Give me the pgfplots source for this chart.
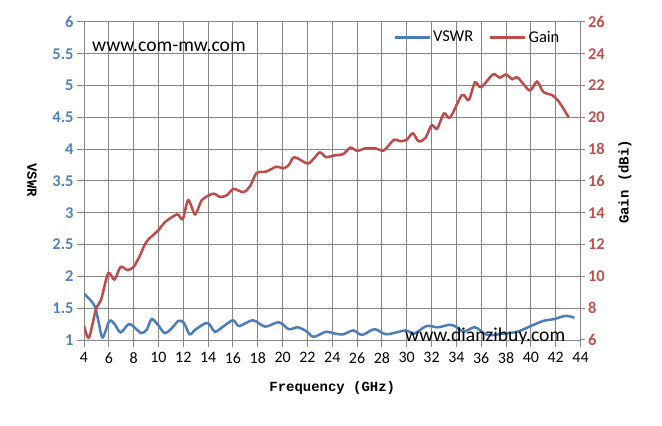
\documentclass[border=0pt]{standalone}
\usepackage{fontspec}
\setmainfont{Carlito}
\newfontfamily\labfont{Liberation Mono}
\usepackage{pgfplots}
\pgfplotsset{compat=1.18}
\definecolor{vblue}{HTML}{4A7EBB}
\definecolor{gred}{HTML}{BE4B48}
\definecolor{tblue}{HTML}{4F81BD}
\definecolor{tred}{HTML}{C0504D}
\definecolor{gridgray}{HTML}{868686}
\begin{document}
\begin{tikzpicture}
\path[use as bounding box] (0,0) rectangle (662bp,426bp);
\begin{axis}[
 at={(84bp,86bp)}, anchor=south west,
 scale only axis, width=496.5bp, height=318bp,
 xmin=4, xmax=44, ymin=1, ymax=6,
 xtick distance=2, ytick distance=0.5,
 grid=major, grid style={gridgray, line width=1bp},
 axis line style={gridgray, line width=1bp},
 tick style={gridgray, line width=1bp},
 tick align=outside, major tick length=7bp,
 xtick pos=bottom, ytick pos=left,
 /pgf/number format/assume math mode=true,
 x tick label style={font=\fontsize{16}{16}\selectfont, black, yshift=-2bp},
 y tick label style={font=\fontsize{16.5}{16.5}\selectfont\bfseries, tblue},
 xlabel={Frequency (GHz)}, ylabel={VSWR},
 label style={font=\labfont\bfseries\fontsize{14}{14}\selectfont},
 xlabel style={at={(axis description cs:0.5,-0.151)}, anchor=center},
 ylabel style={at={(axis description cs:-0.105,0.503)}, anchor=center, rotate=180},
]
\addplot[vblue, line width=2.5bp, smooth] coordinates {
(4,1.73) (4.5,1.63) (4.9,1.52) (5.15,1.31) (5.5,1.04) (6.05,1.3) (6.5,1.24)
(6.95,1.12) (7.6,1.25) (8.0,1.21) (8.6,1.11) (9.05,1.16) (9.45,1.33) (9.95,1.24)
(10.5,1.11) (11.05,1.18) (11.6,1.3) (12.05,1.27) (12.5,1.09) (12.95,1.16)
(13.75,1.26) (14.1,1.25) (14.55,1.13) (15.2,1.21) (16.0,1.31) (16.5,1.22)
(17.6,1.31) (18.6,1.21) (19.7,1.28) (20.5,1.17) (21.2,1.2) (21.9,1.14) (22.5,1.05)
(23.5,1.13) (24.2,1.1) (24.9,1.09) (25.7,1.15) (26.4,1.08) (27.4,1.17) (28.35,1.09)
(29.9,1.15) (30.6,1.1) (31.6,1.22) (32.5,1.2) (33.5,1.24) (34.05,1.2) (34.6,1.13)
(35.5,1.2) (36.5,1.08) (37.8,1.1) (38.9,1.13) (40.0,1.22) (41.0,1.3) (41.9,1.33)
(42.8,1.38) (43.5,1.35)
};
\end{axis}
\begin{axis}[
 at={(84bp,86bp)}, anchor=south west,
 scale only axis, width=496.5bp, height=318bp,
 xmin=4, xmax=44, ymin=6, ymax=26,
 ytick distance=2,
 axis x line=none, axis y line*=right,
 axis line style={gridgray, line width=1bp, -},
 tick style={gridgray, line width=1bp},
 tick align=outside, major tick length=4bp,
 /pgf/number format/assume math mode=true,
 y tick label style={font=\fontsize{16.5}{16.5}\selectfont\bfseries, tred},
 ylabel={Gain (dBi)},
 label style={font=\labfont\bfseries\fontsize{14}{14}\selectfont},
 ylabel style={at={(axis description cs:1.0896,0.497)}, anchor=center},
 legend style={at={(axis description cs:0.617,0.985)}, anchor=north west,
   draw=none, fill=none, font=\fontsize{16.5}{16.5}\selectfont,
   legend columns=2, /tikz/every even column/.append style={column sep=14bp}},
 legend image code/.code={\draw[#1] (0bp,0bp) -- (35bp,0bp);},
]
\addlegendimage{vblue, line width=2.5bp}
\addlegendentry{VSWR}
\addplot[gred, line width=2.5bp, smooth] coordinates {
(4,6.9) (4.4,6.15) (4.95,7.9) (5.4,8.6) (5.95,10.2) (6.45,9.8) (6.95,10.6)
(7.5,10.4) (8.0,10.6) (8.5,11.3) (9.05,12.2) (10.0,12.9) (10.5,13.4) (11.5,13.9)
(11.95,13.6) (12.4,14.8) (12.95,13.9) (13.5,14.8) (14.4,15.2) (14.95,15.0)
(15.5,15.1) (16.05,15.5) (16.85,15.3) (17.4,15.7) (17.9,16.5) (18.7,16.6)
(19.5,16.9) (20.05,16.8) (20.5,17.0) (20.95,17.5) (22.0,17.1) (22.5,17.4)
(23.0,17.8) (23.5,17.5) (24.1,17.6) (24.9,17.7) (25.45,18.1) (26.0,17.9)
(26.65,18.05) (27.5,18.05) (28.1,17.9) (28.5,18.2) (29.0,18.6) (29.5,18.5)
(30.0,18.6) (30.5,19.0) (30.95,18.5) (31.5,18.7) (32.0,19.5) (32.45,19.3)
(33.0,20.25) (33.5,20.0) (34.45,21.4) (35.0,21.1) (35.5,22.2) (36.0,21.9)
(36.95,22.7) (37.5,22.5) (38.0,22.7) (38.5,22.4) (38.95,22.5) (39.9,21.7)
(40.5,22.25) (41.0,21.6) (41.7,21.4) (42.25,21.0) (43.05,20.0)
};
\addlegendentry{Gain}
\end{axis}
\node[anchor=base west, inner sep=0, font=\fontsize{19.7}{20}\selectfont] at (92bp,374bp) {www.com-mw.com};
\node[anchor=base west, inner sep=0, font=\fontsize{19.7}{20}\selectfont] at (405bp,84bp) {www.dianzibuy.com};
\end{tikzpicture}
\end{document}
